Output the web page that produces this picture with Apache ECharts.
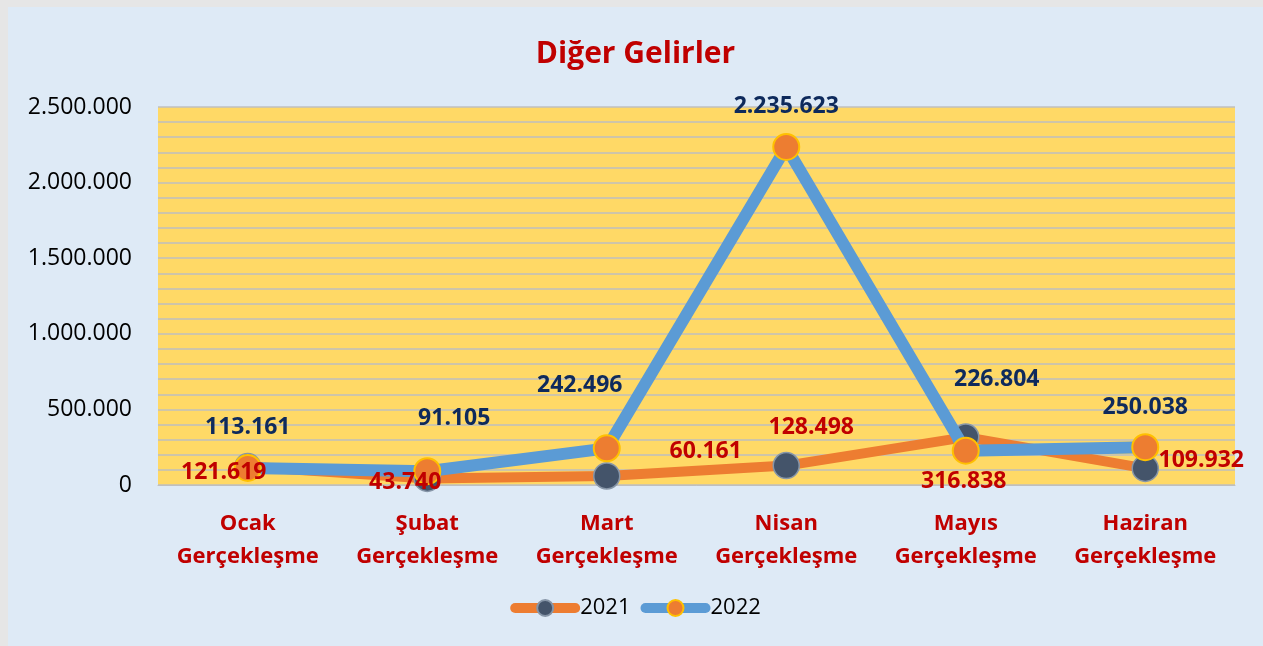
<!DOCTYPE html>
<html>
<head>
<meta charset="utf-8">
<script src="https://cdn.jsdelivr.net/npm/echarts@6/dist/echarts.min.js"></script>
<style>
  html, body { margin: 0; padding: 0; background: #e6e6e6; }
  #main { position: absolute; left: 8px; top: 7px; width: 1255px; height: 639px; background: #deeaf6; }
</style>
</head>
<body>
<div id="main"></div>
<script>
const categories = ["Ocak\nGerçekleşme", "Şubat\nGerçekleşme", "Mart\nGerçekleşme", "Nisan\nGerçekleşme", "Mayıs\nGerçekleşme", "Haziran\nGerçekleşme"];
const values2021 = [121619, 43740, 60161, 128498, 316838, 109932];
const values2022 = [113161, 91105, 242496, 2235623, 226804, 250038];

// label offsets (pixels from marker centre)
const offsets2021 = [[-24, 6], [-22, 4], [99, -24], [25, -38], [-2, 44], [56, -8]];
const offsets2022 = [[0, -40], [27, -53], [-27, -63], [0, -41], [31, -71], [0, -40]];

function fmt(v) {
  return String(v).replace(/\B(?=(\d{3})+(?!\d))/g, ".");
}

var myChart = echarts.init(document.getElementById("main"));
var font = "'Open Sans', sans-serif";

function buildData(values, offsets) {
  return values.map(function (v, i) {
    return { value: v, label: { offset: offsets[i] } };
  });
}

function labelSeries(name, values, offsets, color) {
  // invisible points that only carry the value labels, drawn above both lines
  return {
    name: name + "-label",
    type: "scatter",
    data: buildData(values, offsets),
    symbolSize: 2,
    itemStyle: { color: "rgba(0,0,0,0)" },
    silent: true,
    z: 10,
    label: {
      show: true,
      position: "inside",
      formatter: function (p) { return fmt(p.value); },
      color: color,
      textBorderWidth: 0,
      textBorderColor: "transparent",
      opacity: 1,
      fontSize: 23,
      fontWeight: "bold",
      fontFamily: font,
    },
  };
}

var option = {
  animation: false,
  title: {
    text: "Diğer Gelirler",
    left: "center",
    top: 27,
    textStyle: { color: "#c00000", fontSize: 30, fontWeight: "bold", fontFamily: font },
  },
  legend: {
    bottom: 22,
    left: "center",
    itemWidth: 60,
    itemHeight: 20,
    itemGap: 10,
    lineStyle: { width: 10, cap: "round" },
    textStyle: { fontSize: 22, color: "#000", fontFamily: font },
    data: ["2021", "2022"],
  },
  grid: { left: 150, right: 28, top: 100, bottom: 161, backgroundColor: "#ffd966", show: true, borderWidth: 0 },
  xAxis: {
    type: "category",
    data: categories,
    axisTick: { show: false },
    axisLine: { lineStyle: { color: "#bfbfbf", width: 1 } },
    axisLabel: {
      interval: 0,
      color: "#c00000",
      fontSize: 22,
      fontWeight: "bold",
      fontFamily: font,
      lineHeight: 33,
      margin: 22,
    },
  },
  yAxis: {
    type: "value",
    min: 0,
    max: 2500000,
    interval: 500000,
    axisLabel: { formatter: fmt, fontSize: 23, color: "#000", fontFamily: font, margin: 26 },
    splitLine: { lineStyle: { color: "#bfbfbf", width: 1.5 } },
    minorTick: { show: false, splitNumber: 5 },
    minorSplitLine: { show: true, lineStyle: { color: "#bfbfbf", width: 1.5 } },
  },
  series: [
    {
      name: "2021",
      type: "line",
      data: values2021,
      symbol: "circle",
      symbolSize: 26,
      lineStyle: { color: "#ed7d31", width: 10 },
      itemStyle: { color: "#44546a", borderColor: "#8796a8", borderWidth: 1.5 },
      z: 2,
    },
    {
      name: "2022",
      type: "line",
      data: values2022,
      symbol: "circle",
      symbolSize: 26,
      lineStyle: { color: "#5b9bd5", width: 12 },
      itemStyle: { color: "#ed7d31", borderColor: "#ffc000", borderWidth: 2 },
      z: 3,
    },
    labelSeries("2021", values2021, offsets2021, "#c00000"),
    labelSeries("2022", values2022, offsets2022, "#0e2a5c"),
  ],
};

option && myChart.setOption(option);
</script>
</body>
</html>
